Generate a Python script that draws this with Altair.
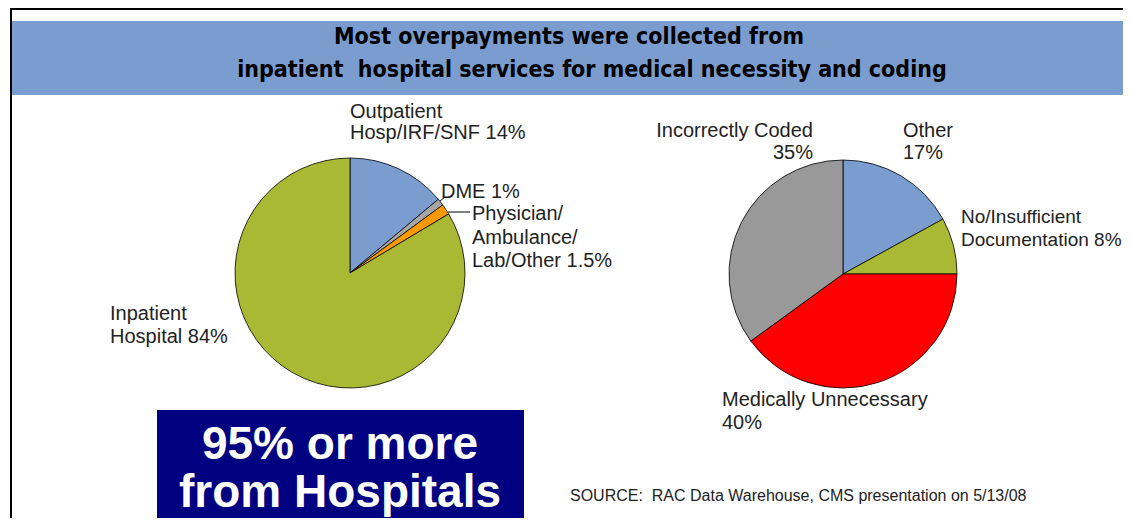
import altair as alt
import pandas as pd

# ---------------- data ----------------
title_lines = ["Most overpayments were collected from",
               "inpatient\u00a0 hospital services for medical necessity and coding"]

left_categories = ["Outpatient Hosp/IRF/SNF", "DME", "Physician/Ambulance/Lab/Other", "Inpatient Hospital"]
left_values = [14, 1, 1.5, 84]
left_colors = ["#7A9CCE", "#A6A6A6", "#FF9900", "#AAB933"]

right_categories = ["Other", "No/Insufficient Documentation", "Medically Unnecessary", "Incorrectly Coded"]
right_values = [17, 8, 40, 35]
right_colors = ["#7A9CCE", "#AAB933", "#FF0000", "#999999"]

callout_lines = ["95% or more", "from Hospitals"]
source_text = "SOURCE:\u00a0 RAC Data Warehouse, CMS presentation on 5/13/08"


def pct(v):
    return f"{v:g}%"


left_labels = [
    ["Outpatient", f"Hosp/IRF/SNF {pct(left_values[0])}"],
    [f"DME {pct(left_values[1])}"],
    ["Physician/", "Ambulance/", f"Lab/Other {pct(left_values[2])}"],
    ["Inpatient", f"Hospital {pct(left_values[3])}"],
]
right_labels = [
    ["Other", pct(right_values[0])],
    ["No/Insufficient", f"Documentation {pct(right_values[1])}"],
    ["Medically Unnecessary", pct(right_values[2])],
    ["Incorrectly Coded", pct(right_values[3])],
]

# ---------------- styling ----------------
W, H = 1115, 510
FONT = "Liberation Sans, Arial, Helvetica, sans-serif"
NARROW = "Liberation Sans Narrow, Arial Narrow, DejaVu Sans Condensed, sans-serif"
TXT = "#222222"
LFS = 20

one = pd.DataFrame({"k": [0]})


def pie(cats, vals, cols, cx, cy, r):
    df = pd.DataFrame({"category": cats, "value": vals, "color": cols,
                       "idx": list(range(len(cats)))})
    return alt.Chart(df).mark_arc(radius=r, stroke="#000000", strokeWidth=0.8).encode(
        theta=alt.Theta("value:Q", stack=True),
        order=alt.Order("idx:Q"),
        color=alt.Color("color:N", scale=None),
        x=alt.value(cx), y=alt.value(cy),
    )


def text(lines, x, y, size=LFS, align="left", color=TXT, weight="normal",
         font=FONT, lh=None, baseline="top"):
    return alt.Chart(one).mark_text(
        align=align, baseline=baseline, fontSize=size, font=font,
        fontWeight=weight, color=color, lineHeight=lh or size * 1.2,
    ).encode(x=alt.value(x), y=alt.value(y), text=alt.value(lines))


def rect(x1, x2, y1, y2, color):
    return alt.Chart(one).mark_rect(color=color).encode(
        x=alt.value(x1), x2=alt.value(x2), y=alt.value(y1), y2=alt.value(y2))


def rule(x1, x2, y1, y2, color="#000000", w=1.0):
    return alt.Chart(one).mark_rule(color=color, strokeWidth=w).encode(
        x=alt.value(x1), x2=alt.value(x2), y=alt.value(y1), y2=alt.value(y2))


layers = [
    # frame & title bar
    rule(2, W, 1, 1, w=2),
    rule(3, 3, 0, H, w=2),
    rect(4, W, 13, 87, "#7A9CCE"),
    text(title_lines[0], 561, 29, size=23, align="center", color="#000000",
         weight="bold", font=NARROW, baseline="middle"),
    text(title_lines[1], 584, 62, size=23, align="center", color="#000000",
         weight="bold", font=NARROW, baseline="middle"),
    # pies
    pie(left_categories, left_values, left_colors, 342, 265, 115),
    pie(right_categories, right_values, right_colors, 835, 266, 114),
    # left labels
    text(left_labels[0], 342, 94, lh=21),
    text(left_labels[1], 433, 174),
    text(left_labels[2], 464, 196, lh=23.5),
    text(left_labels[3], 102, 296, lh=23),
    rule(432, 437, 193, 189, w=1),
    rule(440, 462, 204, 204, w=1),
    # right labels
    text(right_labels[0], 895, 113, lh=22),
    text(right_labels[1], 953, 200, size=19, lh=23),
    text(right_labels[2], 714, 382, lh=23),
    text(right_labels[3], 805, 113, align="right", lh=22),
    # callout box
    rect(149, 516, 402, H, "#000080"),
    text(callout_lines[0], 332, 437, size=46, align="center", color="#FFFFFF",
         weight="bold", baseline="middle"),
    text(callout_lines[1], 332, 485, size=46, align="center", color="#FFFFFF",
         weight="bold", baseline="middle"),
    # source
    text(source_text, 562, 488, size=16, baseline="middle"),
]

chart = alt.layer(*layers).resolve_scale(theta="independent").properties(
    width=W, height=H, padding=0,
    autosize=alt.AutoSizeParams(type="none"),
).configure_view(stroke=None, strokeWidth=0)

chart.save("out.html", embed_options={"renderer": "svg", "actions": False})
